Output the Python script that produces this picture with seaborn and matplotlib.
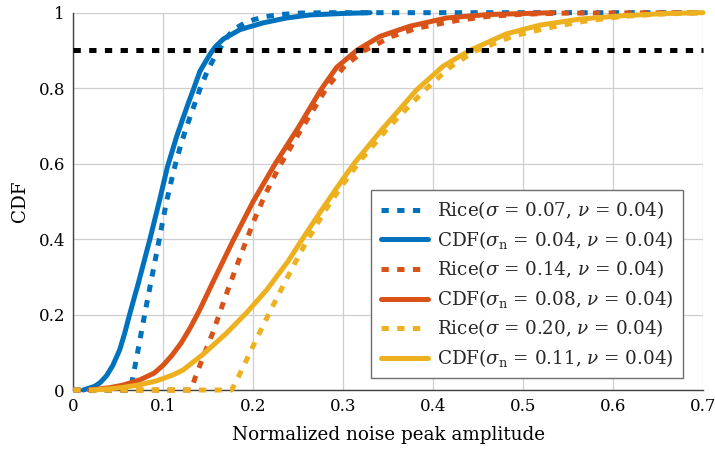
import matplotlib
matplotlib.use("Agg")
import matplotlib.pyplot as plt
import seaborn as sns
from matplotlib.ticker import FixedLocator, FuncFormatter

# Rice(sigma = 0.07, nu = 0.04)
rice1_x = [0.0, 0.0635, 0.0656, 0.0719, 0.0793, 0.087, 0.0956, 0.1037, 0.112, 0.1193,
           0.126, 0.137, 0.1419, 0.150, 0.1574, 0.1622, 0.170, 0.178, 0.190, 0.200,
           0.2148, 0.230, 0.252, 0.285, 0.70]
rice1_y = [0.0, 0.0, 0.025, 0.105, 0.200, 0.295, 0.400, 0.500, 0.585, 0.648,
           0.698, 0.772, 0.805, 0.850, 0.884, 0.902, 0.932, 0.955, 0.972, 0.981,
           0.990, 0.995, 0.999, 1.0, 1.0]

# Empirical CDF(sigma_n = 0.04, nu = 0.04)
cdf1_x = [0.011, 0.024, 0.030, 0.037, 0.0441, 0.0515, 0.0571, 0.0626, 0.0671, 0.0723,
          0.0852, 0.0956, 0.1045, 0.1149, 0.1278, 0.1333, 0.1408, 0.150, 0.1537, 0.158,
          0.1667, 0.1852, 0.211, 0.237, 0.263, 0.300, 0.330]
cdf1_y = [0.0, 0.010, 0.020, 0.038, 0.066, 0.106, 0.150, 0.200, 0.239, 0.283,
          0.400, 0.500, 0.590, 0.672, 0.760, 0.795, 0.845, 0.882, 0.896, 0.910,
          0.930, 0.955, 0.973, 0.986, 0.994, 0.998, 1.0]

# Rice(sigma = 0.14, nu = 0.04)
rice2_x = [0.0, 0.131, 0.1352, 0.1444, 0.1556, 0.168, 0.1795, 0.191, 0.2019, 0.2137,
           0.2285, 0.252, 0.2815, 0.302, 0.3241, 0.354, 0.382, 0.410, 0.426, 0.460,
           0.500, 0.550, 0.70]
rice2_y = [0.0, 0.0, 0.031, 0.088, 0.155, 0.240, 0.315, 0.388, 0.455, 0.520,
           0.590, 0.685, 0.800, 0.860, 0.900, 0.937, 0.959, 0.972, 0.979, 0.990,
           0.996, 0.999, 1.0]

# Empirical CDF(sigma_n = 0.08, nu = 0.04)
cdf2_x = [0.018, 0.040, 0.0552, 0.074, 0.090, 0.100, 0.110, 0.120, 0.130, 0.140,
          0.155, 0.1774, 0.200, 0.2245, 0.250, 0.275, 0.2927, 0.315, 0.3408, 0.374,
          0.415, 0.460, 0.533]
cdf2_y = [0.0, 0.006, 0.013, 0.027, 0.045, 0.066, 0.093, 0.125, 0.165, 0.210,
          0.285, 0.395, 0.500, 0.600, 0.695, 0.795, 0.855, 0.900, 0.937, 0.964,
          0.986, 0.995, 1.0]

# Rice(sigma = 0.20, nu = 0.04)
rice3_x = [0.0, 0.176, 0.1815, 0.191, 0.202, 0.2149, 0.228, 0.246, 0.2574, 0.278,
           0.2852, 0.3056, 0.3204, 0.350, 0.3908, 0.4186, 0.446, 0.489, 0.526, 0.567,
           0.610, 0.650, 0.70]
rice3_y = [0.0, 0.0, 0.025, 0.072, 0.127, 0.190, 0.252, 0.335, 0.385, 0.468,
           0.495, 0.565, 0.612, 0.695, 0.795, 0.855, 0.898, 0.938, 0.959, 0.977,
           0.990, 0.996, 1.0]

# Empirical CDF(sigma_n = 0.11, nu = 0.04)
cdf3_x = [0.022, 0.040, 0.0552, 0.074, 0.0922, 0.1108, 0.1219, 0.1444, 0.170, 0.1927,
          0.2149, 0.239, 0.2519, 0.274, 0.300, 0.313, 0.343, 0.3815, 0.411, 0.4407,
          0.4816, 0.5186, 0.563, 0.611, 0.660, 0.70]
cdf3_y = [0.0, 0.003, 0.007, 0.014, 0.024, 0.040, 0.053, 0.095, 0.150, 0.205,
          0.265, 0.342, 0.390, 0.470, 0.560, 0.603, 0.690, 0.795, 0.858, 0.900,
          0.944, 0.967, 0.983, 0.992, 0.998, 1.0]

# 90 % reference level
level_x = [0.0, 0.70]
level_y = [0.9, 0.9]

labels = [
    r"Rice($\sigma$ = 0.07, $\nu$ = 0.04)",
    r"CDF($\sigma_{\mathrm{n}}$ = 0.04, $\nu$ = 0.04)",
    r"Rice($\sigma$ = 0.14, $\nu$ = 0.04)",
    r"CDF($\sigma_{\mathrm{n}}$ = 0.08, $\nu$ = 0.04)",
    r"Rice($\sigma$ = 0.20, $\nu$ = 0.04)",
    r"CDF($\sigma_{\mathrm{n}}$ = 0.11, $\nu$ = 0.04)",
]
x_ticks = [0, 0.1, 0.2, 0.3, 0.4, 0.5, 0.6, 0.7]
y_ticks = [0, 0.2, 0.4, 0.6, 0.8, 1.0]

blue, red, yellow = "#0072BD", "#D95319", "#EDB120"

sns.set_theme(style="white")
plt.rcParams["font.family"] = ["DejaVu Serif"]
plt.rcParams["mathtext.fontset"] = "dejavuserif"
FS_TICK = 12.0
FS_TEXT = 13.2

fig = plt.figure(figsize=(7.15, 4.53), dpi=100)
ax = fig.add_axes([0.1025, 0.139, 0.8807, 0.833])

LW = 3.6
DASH = (1.46, 1.68)
series = [
    (rice1_x, rice1_y, blue, True),
    (cdf1_x, cdf1_y, blue, False),
    (rice2_x, rice2_y, red, True),
    (cdf2_x, cdf2_y, red, False),
    (rice3_x, rice3_y, yellow, True),
    (cdf3_x, cdf3_y, yellow, False),
]
handles = []
for xs, ys, col, dashed in series:
    sns.lineplot(x=xs, y=ys, color=col, lw=LW, sort=False, estimator=None,
                 ax=ax, clip_on=False, zorder=3)
    line = ax.lines[-1]
    line.set_solid_joinstyle("round")
    if dashed:
        line.set_dashes(DASH)
    handles.append(line)

sns.lineplot(x=level_x, y=level_y, color="black", lw=LW, sort=False,
             estimator=None, ax=ax, clip_on=False, zorder=4)
ax.lines[-1].set_dashes(DASH)

ax.set_xlim(0, 0.7)
ax.set_ylim(0, 1)
ax.xaxis.set_major_locator(FixedLocator(x_ticks))
ax.yaxis.set_major_locator(FixedLocator(y_ticks))
fmt = FuncFormatter(lambda v, p: "0" if abs(v) < 1e-9 else ("1" if abs(v - 1) < 1e-9 else f"{v:g}"))
ax.xaxis.set_major_formatter(fmt)
ax.yaxis.set_major_formatter(fmt)

ax.grid(True, color="#cfcfcf", lw=0.9, zorder=0)
ax.set_axisbelow(True)
for side in ("top", "right"):
    ax.spines[side].set_visible(False)
for side in ("left", "bottom"):
    ax.spines[side].set_color("#404040")
    ax.spines[side].set_linewidth(1.0)
ax.tick_params(direction="in", length=5, width=1.0, color="#404040",
               labelsize=FS_TICK, labelcolor="black", pad=6)

ax.set_xlabel("Normalized noise peak amplitude", fontsize=FS_TEXT, color="black", labelpad=8)
ax.set_ylabel("CDF", fontsize=FS_TEXT, color="black", labelpad=7)

leg = ax.legend(handles, labels, loc="lower right", bbox_to_anchor=(0.9687, 0.031),
                fontsize=FS_TEXT, frameon=True, fancybox=False, framealpha=1.0,
                edgecolor="#6e6e6e", handlelength=2.6, handletextpad=0.5,
                labelspacing=0.42, borderpad=0.5, borderaxespad=0.0)
leg.get_frame().set_linewidth(1.0)
leg.set_zorder(5)

fig.savefig("out.png", dpi=100)
